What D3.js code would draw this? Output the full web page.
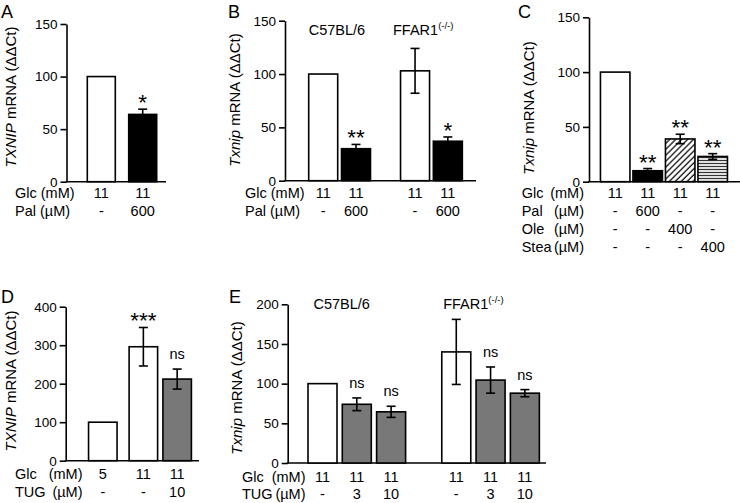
<!DOCTYPE html>
<html><head><meta charset="utf-8">
<script src="https://cdn.jsdelivr.net/npm/d3@7"></script>
<style>
body{margin:0;background:#fff}
text{font-family:"Liberation Sans",Arial,Helvetica,sans-serif;fill:#000}
</style>
</head><body>
<svg id="chart" width="740" height="503"></svg>
<script>
// ---------- DATA ----------
// Panel A
const aValues = [100, 64];
const aErrors = [0, 5];
const aFills = ["white", "black"];
const aStars = ["", "*"];
const aGlc = ["11", "11"];
const aPal = ["-", "600"];
const aTicks = [0, 50, 100, 150];

// Panel B
const bGroups = ["C57BL/6", "FFAR1"];
const bValues = [100, 30, 103, 37];
const bErrors = [0, 4, 21, 4];
const bFills = ["white", "black", "white", "black"];
const bStars = ["", "**", "", "*"];
const bGlc = ["11", "11", "11", "11"];
const bPal = ["-", "600", "-", "600"];
const bTicks = [0, 50, 100, 150];

// Panel C
const cValues = [100, 10, 39, 23];
const cErrors = [0, 2, 4.3, 2.6];
const cFills = ["white", "black", "diag", "horiz"];
const cStars = ["", "**", "**", "**"];
const cGlc = ["11", "11", "11", "11"];
const cPal = ["-", "600", "-", "-"];
const cOle = ["-", "-", "400", "-"];
const cStea = ["-", "-", "-", "400"];
const cTicks = [0, 50, 100, 150];

// Panel D
const dValues = [100, 296, 212];
const dErrors = [0, 50, 26];
const dFills = ["white", "white", "gray"];
const dStars = ["", "***", "ns"];
const dGlc = ["5", "11", "11"];
const dTug = ["-", "-", "10"];
const dTicks = [0, 100, 200, 300, 400];

// Panel E
const eGroups = ["C57BL/6", "FFAR1"];
const eValues = [100, 74, 64.5, 140, 104.5, 88];
const eErrors = [0, 8, 7, 41, 16.5, 4.5];
const eFills = ["white", "gray", "gray", "white", "gray", "gray"];
const eStars = ["", "ns", "ns", "", "ns", "ns"];
const eGlc = ["11", "11", "11", "11", "11", "11"];
const eTug = ["-", "3", "10", "-", "3", "10"];
const eTicks = [0, 50, 100, 150, 200];

// ---------- DRAW ----------
const svg = d3.select("#chart");
const defs = svg.append("defs");
const pd = defs.append("pattern").attr("id", "diag").attr("patternUnits", "userSpaceOnUse")
  .attr("width", 4.2).attr("height", 4.2).attr("patternTransform", "rotate(45)");
pd.append("rect").attr("width", 4.2).attr("height", 4.2).attr("fill", "white");
pd.append("line").attr("x1", 1).attr("x2", 1).attr("y1", 0).attr("y2", 4.2).attr("stroke", "#111").attr("stroke-width", 1.3);
const ph = defs.append("pattern").attr("id", "horiz").attr("patternUnits", "userSpaceOnUse")
  .attr("width", 4).attr("height", 3);
ph.append("rect").attr("width", 4).attr("height", 3).attr("fill", "white");
ph.append("line").attr("x1", 0).attr("x2", 4).attr("y1", 1.5).attr("y2", 1.5).attr("stroke", "#333").attr("stroke-width", 1.3);

const fillMap = {white: "#fff", black: "#000", gray: "#787878", diag: "url(#diag)", horiz: "url(#horiz)"};
const FS_ROW = 14.5, FS_TICK = 13.5, FS_TITLE = 15;

function panel(cfg) {
  const g = svg.append("g");
  const y = d3.scaleLinear().domain([0, cfg.yMax]).range([cfg.y0, cfg.y1]);
  const x = d3.scaleLinear().domain([0, 1]).range([cfg.c0, cfg.c0 + cfg.step]);
  const bw = cfg.bw;

  // y axis
  const ax = g.append("g").attr("transform", `translate(${cfg.ax},0)`)
    .call(d3.axisLeft(y).tickValues(cfg.ticks).tickSize(6).tickSizeOuter(0).tickPadding(3).tickFormat(d3.format("d")));
  ax.select(".domain").attr("stroke", "#000").attr("stroke-width", 1.6);
  ax.selectAll(".tick line").attr("stroke", "#000").attr("stroke-width", 1.6);
  ax.selectAll(".tick text").attr("font-size", FS_TICK).attr("font-family", '"Liberation Sans",Arial,sans-serif').attr("fill", "#000");
  // x baseline
  g.append("line").attr("x1", cfg.ax - 0.8).attr("x2", cfg.xEnd).attr("y1", y(0)).attr("y2", y(0))
    .attr("stroke", "#000").attr("stroke-width", 1.6);

  const data = cfg.values.map((v, i) => ({v, e: cfg.errors[i], f: cfg.fills[i], s: cfg.stars[i], slot: cfg.slots[i]}));

  // bars
  g.selectAll("rect.bar").data(data).join("rect").attr("class", "bar")
    .attr("x", d => x(d.slot) - bw / 2).attr("width", bw)
    .attr("y", d => y(d.v)).attr("height", d => y(0) - y(d.v))
    .attr("fill", d => fillMap[d.f]).attr("stroke", "#000").attr("stroke-width", 1.6);

  // error bars
  const eb = data.filter(d => d.e > 0);
  const cap = 4.5;
  g.selectAll("line.ev").data(eb).join("line").attr("class", "ev")
    .attr("x1", d => x(d.slot)).attr("x2", d => x(d.slot))
    .attr("y1", d => y(d.f === "black" ? d.v : d.v - d.e)).attr("y2", d => y(d.v + d.e))
    .attr("stroke", "#000").attr("stroke-width", 1.6);
  g.selectAll("line.ct").data(eb).join("line").attr("class", "ct")
    .attr("x1", d => x(d.slot) - cap).attr("x2", d => x(d.slot) + cap)
    .attr("y1", d => y(d.v + d.e)).attr("y2", d => y(d.v + d.e))
    .attr("stroke", "#000").attr("stroke-width", 1.6);
  g.selectAll("line.cb").data(eb.filter(d => d.f !== "black")).join("line").attr("class", "cb")
    .attr("x1", d => x(d.slot) - cap).attr("x2", d => x(d.slot) + cap)
    .attr("y1", d => y(d.v - d.e)).attr("y2", d => y(d.v - d.e))
    .attr("stroke", "#000").attr("stroke-width", 1.6);

  // significance labels
  g.selectAll("text.sig").data(data.filter(d => d.s)).join("text").attr("class", "sig")
    .attr("x", d => x(d.slot)).attr("text-anchor", "middle")
    .attr("y", d => d.s === "ns" ? y(d.v + d.e) - 10 : y(d.v + d.e) + 1)
    .attr("font-size", d => d.s === "ns" ? FS_ROW : 22.5)
    .text(d => d.s);

  // group labels
  (cfg.groups || []).forEach((gr, i) => {
    const t = g.append("text").attr("x", x(cfg.groupSlots[i])).attr("y", cfg.groupY)
      .attr("text-anchor", "middle").attr("font-size", FS_ROW);
    t.append("tspan").text(gr);
    if (gr === "FFAR1") t.append("tspan").attr("font-size", 9.5).attr("dy", -6).text("(-/-)");
  });

  // condition rows
  cfg.rows.forEach(r => {
    g.append("text").attr("x", cfg.nameX).attr("y", r.y).attr("font-size", FS_ROW).text(r.name);
    if (r.unit) {
      g.append("text").attr("x", cfg.unitEnd).attr("y", r.y).attr("text-anchor", "end")
        .attr("font-size", FS_ROW).text(r.unit);
    }
    g.selectAll(null).data(r.values).join("text")
      .attr("x", (d, i) => x(cfg.slots[i])).attr("y", r.y).attr("text-anchor", "middle")
      .attr("font-size", FS_ROW).text(d => d);
  });

  // y title
  const yt = g.append("text").attr("transform", `translate(${cfg.titleX},${cfg.titleY}) rotate(-90)`)
    .attr("text-anchor", "middle").attr("font-size", FS_TITLE);
  yt.append("tspan").attr("font-style", "italic").text(cfg.gene);
  yt.append("tspan").text(" mRNA (ΔΔCt)");

  // panel letter
  g.append("text").attr("x", cfg.letterX).attr("y", cfg.letterY).attr("font-size", 18).text(cfg.letter);
}

panel({letter: "A", letterX: 1, letterY: 17.5, gene: "TXNIP", titleX: 15.5, titleY: 97,
  yMax: 150, y0: 181.7, y1: 24, ticks: aTicks, ax: 66.5, xEnd: 166,
  c0: 101.3, step: 41.4, slots: [0, 1], bw: 28,
  values: aValues, errors: aErrors, fills: aFills, stars: aStars,
  nameX: 15, rows: [{name: "Glc (mM)", values: aGlc, y: 197.5}, {name: "Pal (µM)", values: aPal, y: 215.5}]});

panel({letter: "B", letterX: 228, letterY: 17.5, gene: "Txnip", titleX: 239.5, titleY: 100,
  yMax: 150, y0: 180.7, y1: 20.7, ticks: bTicks, ax: 285, xEnd: 476,
  c0: 323.2, step: 32.8, slots: [0, 1, 2.8, 3.8], bw: 29,
  values: bValues, errors: bErrors, fills: bFills, stars: bStars,
  groups: bGroups, groupSlots: [0.42, 3.05], groupY: 35,
  nameX: 245, rows: [{name: "Glc (mM)", values: bGlc, y: 197.5}, {name: "Pal (µM)", values: bPal, y: 215.5}]});

panel({letter: "C", letterX: 518, letterY: 17.5, gene: "Txnip", titleX: 534, titleY: 108,
  yMax: 150, y0: 181.7, y1: 17.3, ticks: cTicks, ax: 589, xEnd: 740,
  c0: 615.2, step: 32.5, slots: [0, 1, 2, 3], bw: 29.5,
  values: cValues, errors: cErrors, fills: cFills, stars: cStars,
  nameX: 521.7, unitEnd: 584, rows: [
    {name: "Glc", unit: "(mM)", values: cGlc, y: 197.5},
    {name: "Pal", unit: "(µM)", values: cPal, y: 215.5},
    {name: "Ole", unit: "(µM)", values: cOle, y: 234},
    {name: "Stea", unit: "(µM)", values: cStea, y: 252}]});

panel({letter: "D", letterX: 1, letterY: 302.5, gene: "TXNIP", titleX: 15.5, titleY: 381,
  yMax: 400, y0: 460.7, y1: 306.7, ticks: dTicks, ax: 65.7, xEnd: 199,
  c0: 102.8, step: 33.8, slots: [0, 1.2, 2.2], bw: 28.5,
  values: dValues, errors: dErrors, fills: dFills, stars: dStars,
  nameX: 15, unitEnd: 82.5, rows: [
    {name: "Glc", unit: "(mM)", values: dGlc, y: 479},
    {name: "TUG", unit: "(µM)", values: dTug, y: 496.5}]});

panel({letter: "E", letterX: 229, letterY: 302.5, gene: "Txnip", titleX: 241.5, titleY: 388,
  yMax: 200, y0: 463, y1: 304.3, ticks: eTicks, ax: 287.7, xEnd: 546,
  c0: 322.5, step: 34.3, slots: [0, 1, 2, 3.9, 4.9, 5.9], bw: 29,
  values: eValues, errors: eErrors, fills: eFills, stars: eStars,
  groups: eGroups, groupSlots: [0.56, 4.4], groupY: 309,
  nameX: 242, unitEnd: 305.5, rows: [
    {name: "Glc", unit: "(mM)", values: eGlc, y: 481.5},
    {name: "TUG", unit: "(µM)", values: eTug, y: 499}]});
</script>
</body></html>
